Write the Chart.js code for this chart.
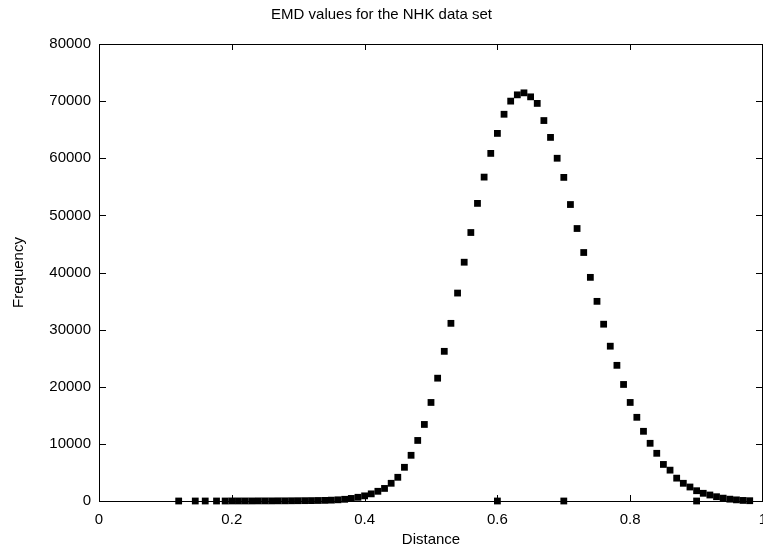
<!DOCTYPE html>
<html>
<head>
<meta charset="utf-8">
<script src="https://cdn.jsdelivr.net/npm/chart.js@4/dist/chart.umd.min.js"></script>
<style>
  html, body { margin: 0; padding: 0; background: #fff; }
  #wrap { width: 763px; height: 547px; position: relative; }
</style>
</head>
<body>
<div id="wrap"><canvas id="emdChart"></canvas></div>
<script>
// histogram of EMD distances
const distance = [
  0.12, 0.145, 0.16, 0.177, 0.19,
  0.20, 0.21, 0.22, 0.23, 0.24, 0.25, 0.26, 0.27, 0.28, 0.29,
  0.30, 0.31, 0.32, 0.33, 0.34, 0.35, 0.36, 0.37, 0.38, 0.39,
  0.40, 0.41, 0.42, 0.43, 0.44, 0.45, 0.46, 0.47, 0.48, 0.49,
  0.50, 0.51, 0.52, 0.53, 0.54, 0.55, 0.56, 0.57, 0.58, 0.59,
  0.60, 0.61, 0.62, 0.63, 0.64, 0.65, 0.66, 0.67, 0.68, 0.69,
  0.70, 0.71, 0.72, 0.73, 0.74, 0.75, 0.76, 0.77, 0.78, 0.79,
  0.80, 0.81, 0.82, 0.83, 0.84, 0.85, 0.86, 0.87, 0.88, 0.89,
  0.90, 0.91, 0.92, 0.93, 0.94, 0.95, 0.96, 0.97, 0.98
];
const frequency = [
  0, 0, 0, 0, 0,
  10, 10, 10, 10, 20, 20, 20, 30, 30, 40,
  50, 60, 70, 90, 110, 150, 210, 300, 450, 650,
  900, 1250, 1700, 2200, 3100, 4150, 5900, 8000, 10600, 13400,
  17250, 21500, 26200, 31100, 36400, 41800, 47000, 52100, 56700, 60850,
  64350, 67700, 70000, 71100, 71450, 70750, 69600, 66600, 63650, 60000,
  56650, 51900, 47700, 43500, 39150, 34950, 30950, 27100, 23750, 20400,
  17250, 14650, 12200, 10100, 8350, 6400, 5400, 4000, 3100, 2450,
  1800, 1350, 1050, 750, 500, 320, 200, 100, 50
];
// stray zero-count points sitting on the axis
const strayDistance = [0.6, 0.7, 0.9];
const strayFrequency = [0, 0, 0];

const xTicks = [0, 0.2, 0.4, 0.6, 0.8, 1];
const yTicks = [0, 10000, 20000, 30000, 40000, 50000, 60000, 70000, 80000];

const font = { family: "'Liberation Sans', Arial, sans-serif", size: 15 };

// gnuplot style box with inward ticks on every side
const frameTicks = {
  id: 'frameTicks',
  beforeDatasetsDraw(chart) {
    const { ctx, chartArea: a, scales: { x, y } } = chart;
    ctx.save();
    ctx.strokeStyle = '#000';
    ctx.lineWidth = 1;
    ctx.strokeRect(Math.round(a.left) + 0.5, Math.round(a.top) + 0.5,
      Math.round(a.right - a.left) - 1, Math.round(a.bottom - a.top));
    ctx.beginPath();
    x.ticks.forEach((t) => {
      const px = Math.round(x.getPixelForValue(t.value)) + 0.5;
      ctx.moveTo(px, a.bottom); ctx.lineTo(px, a.bottom - 6);
      ctx.moveTo(px, a.top); ctx.lineTo(px, a.top + 6);
    });
    y.ticks.forEach((t) => {
      const py = Math.round(y.getPixelForValue(t.value)) + 0.5;
      ctx.moveTo(a.left, py); ctx.lineTo(a.left + 7, py);
      ctx.moveTo(a.right, py); ctx.lineTo(a.right - 7, py);
    });
    ctx.stroke();
    ctx.restore();
  },
};

const pointStyle = {
  pointStyle: 'rect',
  pointRadius: 4.8,
  pointHoverRadius: 4.8,
  pointBackgroundColor: '#000',
  pointBorderColor: '#000',
  pointBorderWidth: 0,
  showLine: false,
  clip: false,
};

new Chart(document.getElementById('emdChart'), {
  type: 'scatter',
  data: {
    datasets: [
      { data: distance.map((d, i) => ({ x: d, y: frequency[i] })), ...pointStyle },
      { data: strayDistance.map((d, i) => ({ x: d, y: strayFrequency[i] })), ...pointStyle },
    ],
  },
  options: {
    responsive: true,
    maintainAspectRatio: false,
    animation: false,
    // no auto padding: the plot box runs right to the canvas edge and the "1" gets cut
    layout: { padding: 0, autoPadding: false },
    plugins: {
      legend: { display: false },
      tooltip: { enabled: false },
      title: {
        display: true,
        text: 'EMD values for the NHK data set',
        color: '#000',
        font: { ...font, weight: 'normal' },
        padding: { top: 6, bottom: 20 },
      },
    },
    scales: {
      x: {
        type: 'linear',
        min: 0,
        max: 1,
        grid: { display: false, drawTicks: false },
        border: { display: false },
        afterBuildTicks: (s) => { s.ticks = xTicks.map((v) => ({ value: v })); },
        afterFit: (s) => { s.height = 46; s.paddingRight = 0; },
        ticks: {
          color: '#000',
          font,
          padding: 10,
          maxRotation: 0,
          callback: (v) => String(v),
        },
        title: { display: true, text: 'Distance', color: '#000', font: { ...font, lineHeight: 1 }, padding: { top: 0, bottom: 0 } },
      },
      y: {
        type: 'linear',
        min: 0,
        max: 80000,
        grid: { display: false, drawTicks: false },
        border: { display: false },
        afterBuildTicks: (s) => { s.ticks = yTicks.map((v) => ({ value: v })); },
        afterFit: (s) => { s.width = 99; s.paddingTop = 0; s.paddingBottom = 0; },
        ticks: { color: '#000', font, padding: 8, callback: (v) => String(v) },
        title: { display: true, text: 'Frequency', color: '#000', font, padding: { top: 10, bottom: 0 } },
      },
    },
  },
  plugins: [frameTicks],
});
</script>
</body>
</html>
